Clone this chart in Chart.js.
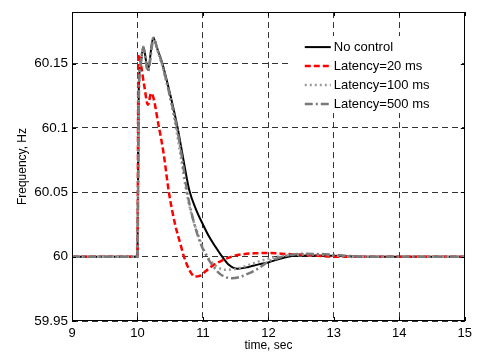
<!DOCTYPE html>
<html>
<head>
<meta charset="utf-8">
<script src="https://cdn.jsdelivr.net/npm/chart.js@4.4.0/dist/chart.umd.min.js"></script>
<style>
  html, body { margin: 0; padding: 0; background: #fff; }
  #wrap { width: 477px; height: 354px; position: relative; }
</style>
</head>
<body>
<div id="wrap"><canvas id="c" width="477" height="354"></canvas></div>
<script>
// ---- data ----
const seriesNames = ['No control', 'Latency=20 ms', 'Latency=100 ms', 'Latency=500 ms'];

const tNoCtrl = [9, 10.0, 10.02, 10.05, 10.09, 10.16, 10.24, 10.3, 10.38, 10.5, 10.61, 10.7, 10.79, 10.9, 11.0, 11.1, 11.2, 11.28, 11.4, 11.53, 11.7, 11.85, 12.0, 12.15, 12.3, 12.6, 13.0, 13.5, 15];
const fNoCtrl = [60, 60, 60.13, 60.15, 60.163, 60.145, 60.170, 60.162, 60.150, 60.126, 60.101, 60.076, 60.052, 60.036, 60.025, 60.015, 60.007, 60.001, 59.9935, 59.9906, 59.992, 59.994, 59.9955, 59.998, 60.0, 60.0008, 60.0006, 60.0, 60];

const tLat20 = [9, 10.0, 10.015, 10.1, 10.16, 10.21, 10.33, 10.4, 10.48, 10.58, 10.65, 10.71, 10.8, 10.88, 10.95, 11.05, 11.15, 11.29, 11.44, 11.6, 11.8, 12.0, 12.3, 12.7, 13.0, 15];
const fLat20 = [60, 60, 60.157, 60.134, 60.118, 60.127, 60.100, 60.08, 60.05, 60.024, 60.011, 60.0, 59.989, 59.9845, 59.985, 59.989, 59.993, 59.997, 60.0, 60.0018, 60.0026, 60.0028, 60.002, 60.001, 60.0, 60];

const tLat100 = [9, 10.0, 10.02, 10.05, 10.09, 10.16, 10.24, 10.3, 10.38, 10.5, 10.585, 10.66, 10.75, 10.83, 10.92, 11.0, 11.07, 11.15, 11.25, 11.35, 11.5, 11.7, 11.9, 12.1, 12.3, 12.6, 12.9, 13.3, 15];
const fLat100 = [60, 60, 60.13, 60.15, 60.163, 60.145, 60.170, 60.161, 60.148, 60.123, 60.101, 60.078, 60.05, 60.032, 60.018, 60.007, 60.0, 59.995, 59.991, 59.9898, 59.9905, 59.9935, 59.997, 59.9995, 60.001, 60.0018, 60.0012, 60.0, 60];

const tLat500 = [9, 10.0, 10.02, 10.05, 10.09, 10.16, 10.25, 10.3, 10.37, 10.5, 10.6, 10.68, 10.76, 10.84, 10.93, 11.0, 11.06, 11.15, 11.25, 11.35, 11.44, 11.55, 11.7, 11.85, 12.0, 12.15, 12.3, 12.5, 12.8, 13.1, 13.5, 15];
const fLat500 = [60, 60, 60.12, 60.15, 60.162, 60.144, 60.170, 60.162, 60.151, 60.124, 60.101, 60.077, 60.05, 60.031, 60.015, 60.006, 60.0, 59.993, 59.987, 59.984, 59.9832, 59.984, 59.987, 59.991, 59.9962, 59.999, 60.001, 60.0022, 60.002, 60.001, 60.0, 60];

const xTicks = [9, 10, 11, 12, 13, 14, 15];
const yTicks = [59.95, 60, 60.05, 60.1, 60.15];
const yTickLabels = ['59.95', '60', '60.05', '60.1', '60.15'];

// ---- build ----
function pts(t, f) { return t.map((x, i) => ({ x: x, y: f[i] })); }

const FONT = "'Liberation Sans', Arial, Helvetica, sans-serif";

const datasets = [
  { label: seriesNames[0], data: pts(tNoCtrl, fNoCtrl), borderColor: '#000000', borderWidth: 2, borderDash: [], order: 4 },
  { label: seriesNames[1], data: pts(tLat20, fLat20), borderColor: '#ff0000', borderWidth: 2.5, borderDash: [6, 3], order: 3 },
  { label: seriesNames[2], data: pts(tLat100, fLat100), borderColor: '#9a9a9a', borderWidth: 2.5, borderDash: [2, 3], order: 2 },
  { label: seriesNames[3], data: pts(tLat500, fLat500), borderColor: '#7a7a7a', borderWidth: 2.5, borderDash: [8, 3, 2, 3], order: 1 }
].map(d => Object.assign(d, { pointRadius: 0, fill: false, cubicInterpolationMode: 'monotone', borderCapStyle: 'butt' }));

const framePlugin = {
  id: 'frame',
  afterDatasetsDraw(chart) {
    const { ctx, chartArea: a, scales } = chart;
    ctx.save();
    // inward tick marks
    ctx.strokeStyle = '#000';
    ctx.lineWidth = 1;
    ctx.setLineDash([]);
    ctx.beginPath();
    xTicks.forEach(v => {
      const px = Math.round(scales.x.getPixelForValue(v)) + 0.5;
      ctx.moveTo(px, a.bottom); ctx.lineTo(px, a.bottom - 4);
      ctx.moveTo(px, a.top); ctx.lineTo(px, a.top + 4);
    });
    yTicks.forEach(v => {
      const py = Math.round(scales.y.getPixelForValue(v)) + 0.5;
      ctx.moveTo(a.left, py); ctx.lineTo(a.left + 4, py);
      ctx.moveTo(a.right, py); ctx.lineTo(a.right - 4, py);
    });
    ctx.stroke();

    // legend (white box, no border)
    const bx = a.right - 175, by = a.top + 24, bw = 169, bh = 77;
    ctx.fillStyle = '#fff';
    ctx.fillRect(bx, by, bw, bh);
    ctx.font = '13px ' + FONT;
    ctx.textBaseline = 'middle';
    ctx.textAlign = 'left';
    datasets.forEach((d, i) => {
      const y = by + 11 + i * 19;
      ctx.beginPath();
      ctx.strokeStyle = d.borderColor;
      ctx.lineWidth = d.borderWidth;
      ctx.setLineDash(d.borderDash);
      ctx.moveTo(bx + 15, y); ctx.lineTo(bx + 41, y);
      ctx.stroke();
      ctx.setLineDash([]);
      ctx.fillStyle = '#000';
      ctx.fillText(d.label, bx + 44, y + 0.5);
    });

    // frame
    ctx.strokeStyle = '#000';
    ctx.lineWidth = 1;
    ctx.setLineDash([]);
    ctx.strokeRect(Math.round(a.left) + 0.5, Math.round(a.top) + 0.5, Math.round(a.right - a.left) - 1, Math.round(a.bottom - a.top) - 1);
    ctx.restore();
  }
};

new Chart(document.getElementById('c'), {
  type: 'line',
  data: { datasets: datasets },
  options: {
    responsive: false,
    animation: false,
    events: [],
    layout: { padding: { top: 8, right: 9, left: 0, bottom: 0 } },
    plugins: { legend: { display: false }, tooltip: { enabled: false } },
    scales: {
      x: {
        type: 'linear', min: 9, max: 15,
        afterBuildTicks: s => { s.ticks = xTicks.map(v => ({ value: v })); },
        afterFit: s => { s.height = 33; },
        ticks: { color: '#000', font: { family: FONT, size: 13 }, padding: 5, maxRotation: 0, autoSkip: false },
        grid: { color: '#333333', lineWidth: 1, drawTicks: false },
        border: { display: false, dash: [6, 4] },
        title: { display: true, text: 'time, sec', color: '#000', font: { family: FONT, size: 12 }, padding: { top: 0, bottom: 1 } }
      },
      y: {
        type: 'linear', min: 59.95, max: 60.19,
        afterBuildTicks: s => { s.ticks = yTicks.map(v => ({ value: v })); },
        afterFit: s => { s.width = 72; },
        ticks: {
          color: '#000', font: { family: FONT, size: 13.5 }, padding: 4, autoSkip: false,
          callback: (v) => { const i = yTicks.findIndex(t => Math.abs(t - v) < 1e-9); return i >= 0 ? yTickLabels[i] : ''; }
        },
        grid: { color: '#333333', lineWidth: 1, drawTicks: false },
        border: { display: false, dash: [6, 4] },
        title: { display: true, text: 'Frequency, Hz', color: '#000', font: { family: FONT, size: 12 }, padding: { top: 15, bottom: 0 } }
      }
    }
  },
  plugins: [framePlugin]
});
</script>
</body>
</html>
